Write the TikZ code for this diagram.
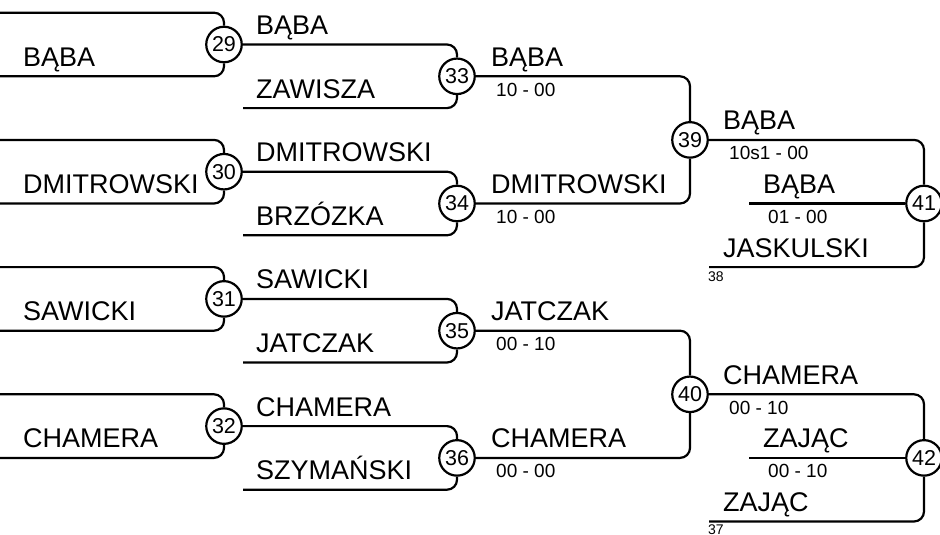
\documentclass[tikz,border=0pt]{standalone}
\usepackage{fontspec}
\setmainfont{Liberation Sans}
\begin{document}
\begin{tikzpicture}[x=1pt,y=-1pt,
  bline/.style={line width=2.2pt, rounded corners=10pt},
  mcircle/.style={circle, draw, line width=2.2pt, fill=white, minimum size=35.5pt, inner sep=0pt, font=\fontsize{21.5}{22}\selectfont},
  pname/.style={anchor=base west, inner sep=0pt, font=\fontsize{27}{30}\selectfont},
  pscore/.style={anchor=base west, inner sep=0pt, font=\fontsize{19}{21}\selectfont},
  psmall/.style={anchor=base west, inner sep=0pt, font=\fontsize{14}{16}\selectfont}]
\useasboundingbox (0,0) rectangle (940,535);
% circles
\node[mcircle] (m29) at (224,44.5) {29};
\node[mcircle] (m30) at (224,171.7) {30};
\node[mcircle] (m31) at (224,298.9) {31};
\node[mcircle] (m32) at (224,426.1) {32};
\node[mcircle] (m33) at (457,76.3) {33};
\node[mcircle] (m34) at (457,203.5) {34};
\node[mcircle] (m35) at (457,330.7) {35};
\node[mcircle] (m36) at (457,457.9) {36};
\node[mcircle] (m39) at (690,139.9) {39};
\node[mcircle] (m40) at (690,394.3) {40};
\node[mcircle] (m41) at (924,203.5) {41};
\node[mcircle] (m42) at (924,457.9) {42};
% free ends
\coordinate (a29) at (0,12.7);   \coordinate (b29) at (0,76.3);
\coordinate (a30) at (0,139.9);  \coordinate (b30) at (0,203.5);
\coordinate (a31) at (0,267.1);  \coordinate (b31) at (0,330.7);
\coordinate (a32) at (0,394.3);  \coordinate (b32) at (0,457.9);
\coordinate (f33) at (243,108.1);
\coordinate (f34) at (243,235.3);
\coordinate (f35) at (243,362.5);
\coordinate (f36) at (243,489.7);
\coordinate (g41) at (749,203.5); \coordinate (h41) at (709,267.1);
\coordinate (g42) at (749,457.9); \coordinate (h42) at (709,521.5);
% connectors
\foreach \n in {29,30,31,32}{
  \draw[bline] (a\n) -- (a\n -| m\n) -- (m\n);
  \draw[bline] (b\n) -- (b\n -| m\n) -- (m\n);
}
\draw[bline] (m29) -- (m29 -| m33) -- (m33);
\draw[bline] (f33) -- (f33 -| m33) -- (m33);
\draw[bline] (m30) -- (m30 -| m34) -- (m34);
\draw[bline] (f34) -- (f34 -| m34) -- (m34);
\draw[bline] (m31) -- (m31 -| m35) -- (m35);
\draw[bline] (f35) -- (f35 -| m35) -- (m35);
\draw[bline] (m32) -- (m32 -| m36) -- (m36);
\draw[bline] (f36) -- (f36 -| m36) -- (m36);
\draw[bline] (m33) -- (m33 -| m39) -- (m39);
\draw[bline] (m34) -- (m34 -| m39) -- (m39);
\draw[bline] (m35) -- (m35 -| m40) -- (m40);
\draw[bline] (m36) -- (m36 -| m40) -- (m40);
\draw[bline] (m39) -- (m39 -| m41) -- (m41);
\draw[bline] (g41) -- (m41);
\draw[bline] (h41) -- (h41 -| m41) -- (m41);
\draw[bline] (m40) -- (m40 -| m42) -- (m42);
\draw[bline] (g42) -- (m42);
\draw[bline] (h42) -- (h42 -| m42) -- (m42);
% round 1 names
\node[pname] (t1a) at (23,66.3) {BĄBA};
\node[pname] (t1b) at (23,193.5) {DMITROWSKI};
\node[pname] (t1c) at (23,320.7) {SAWICKI};
\node[pname] (t1d) at (23,447.9) {CHAMERA};
% round 2 names
\node[pname] (t2a) at (256,34.5) {BĄBA};
\node[pname] (t2b) at (256,98.1) {ZAWISZA};
\node[pname] (t2c) at (256,161.7) {DMITROWSKI};
\node[pname] (t2d) at (256,225.3) {BRZÓZKA};
\node[pname] (t2e) at (256,288.9) {SAWICKI};
\node[pname] (t2f) at (256,352.5) {JATCZAK};
\node[pname] (t2g) at (256,416.1) {CHAMERA};
\node[pname] (t2h) at (256,479.7) {SZYMAŃSKI};
% round 3 names and scores
\node[pname] (t3a) at (491,66.3) {BĄBA};
\node[pscore] (s3a) at (496,96) {10 - 00};
\node[pname] (t3b) at (491,193.5) {DMITROWSKI};
\node[pscore] (s3b) at (496,223.2) {10 - 00};
\node[pname] (t3c) at (491,320.7) {JATCZAK};
\node[pscore] (s3c) at (496,350.4) {00 - 10};
\node[pname] (t3d) at (491,447.9) {CHAMERA};
\node[pscore] (s3d) at (496,477.6) {00 - 00};
% round 4 upper
\node[pname] (t4a) at (723,129.9) {BĄBA};
\node[pscore] (s4a) at (729,159.6) {10s1 - 00};
\node[pname] (t4b) at (763,193.5) {BĄBA};
\node[pscore] (s4b) at (768,223.2) {01 - 00};
\node[pname] (t4c) at (723,257.1) {JASKULSKI};
\node[psmall] (n38) at (708,281.8) {38};
% round 4 lower
\node[pname] (t4d) at (723,384.3) {CHAMERA};
\node[pscore] (s4d) at (729,414) {00 - 10};
\node[pname] (t4e) at (763,447.9) {ZAJĄC};
\node[pscore] (s4e) at (768,477.6) {00 - 10};
\node[pname] (t4f) at (723,511.5) {ZAJĄC};
\node[psmall] (n37) at (708,534.5) {37};
\end{tikzpicture}
\end{document}
